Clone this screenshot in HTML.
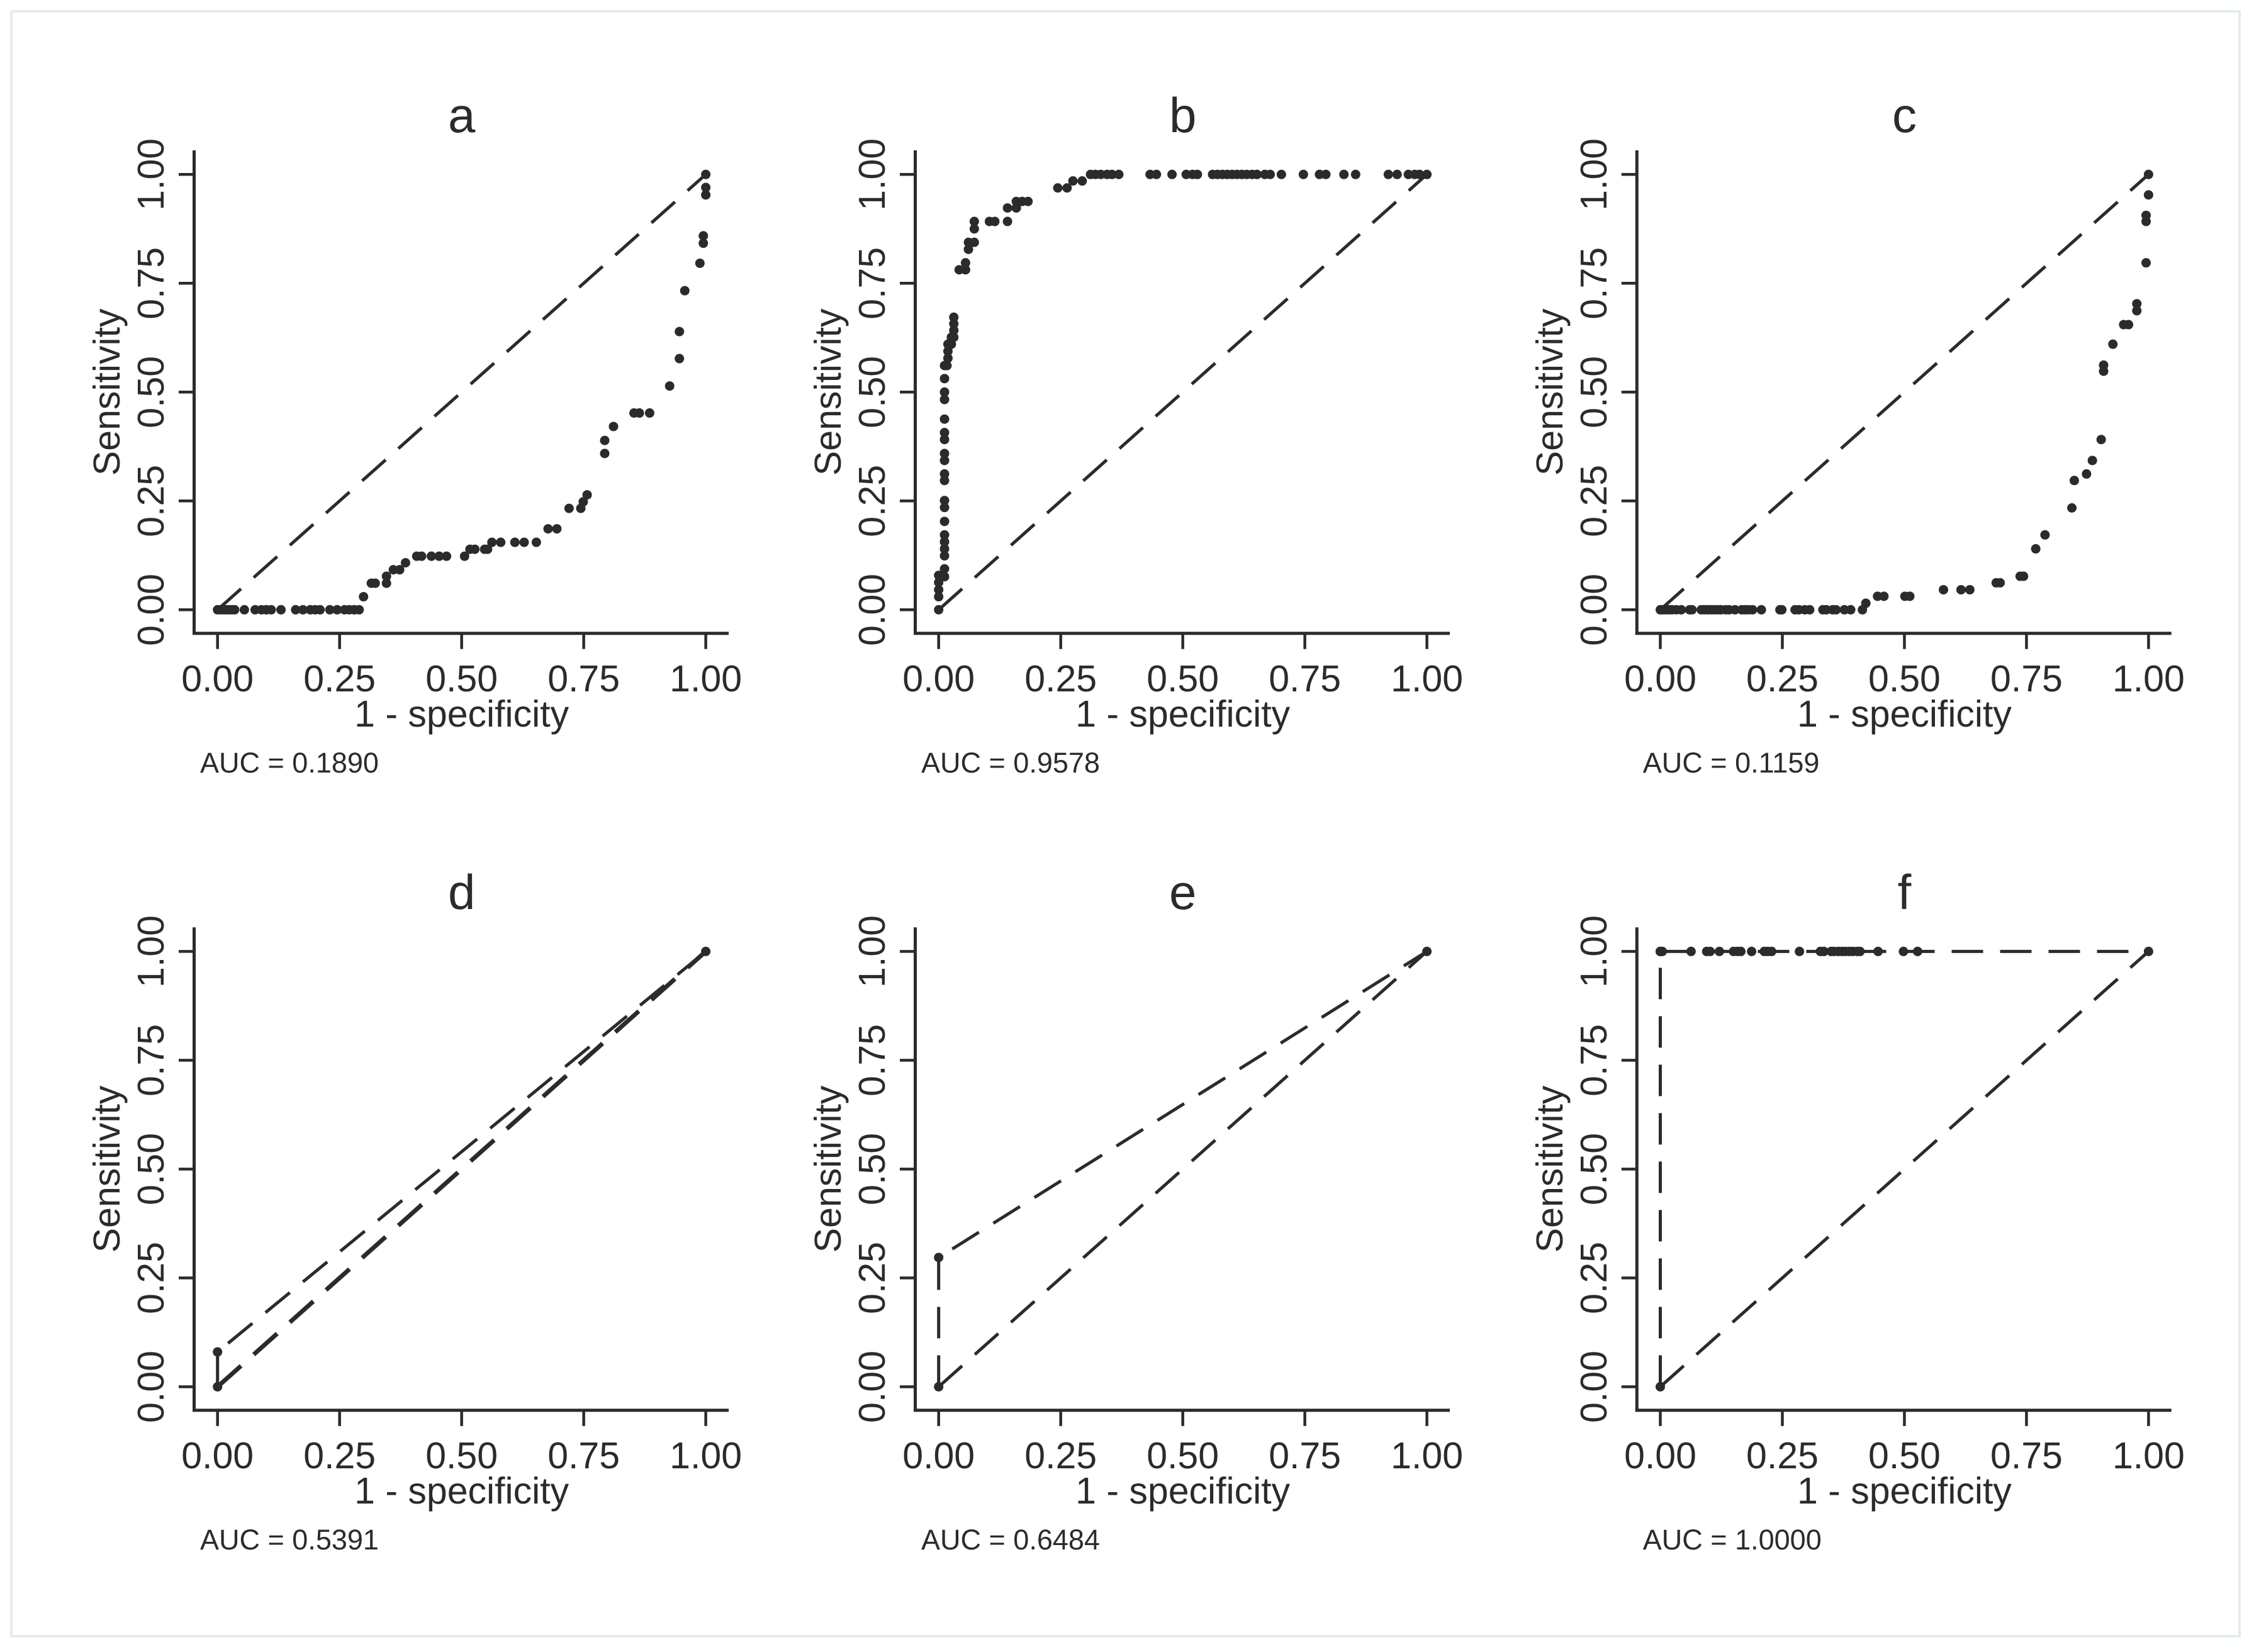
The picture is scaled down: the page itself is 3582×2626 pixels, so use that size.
<!DOCTYPE html>
<html><head><meta charset="utf-8"><style>
html,body{margin:0;padding:0;background:#fff;}
svg{display:block;}
text{font-family:"Liberation Sans",Arial,sans-serif;fill:#2b2b2b;}
</style></head><body>
<svg id="fig" xmlns="http://www.w3.org/2000/svg" width="3582" height="2626" viewBox="0 0 3582 2626">
<rect x="18" y="18" width="3541" height="2583" fill="#fff" stroke="#e2eded" stroke-width="4"/>
</svg>
<script>
// ---- data ----
const panelLabels = ["a","b","c","d","e","f"];
const aucLabels = ["AUC = 0.1890","AUC = 0.9578","AUC = 0.1159","AUC = 0.5391","AUC = 0.6484","AUC = 1.0000"];
const tickValues = [0, 0.25, 0.5, 0.75, 1];
const tickLabels = ["0.00","0.25","0.50","0.75","1.00"];

const aFpr = [0,0.005,0.01,0.015,0.02,0.025,0.03,0.035,0.055,0.077,0.09,0.10,0.11,0.13,0.16,0.175,0.19,0.2,0.21,0.23,0.245,0.26,0.27,0.28,0.29,
  0.299,0.315,0.323,0.346,0.346,0.36,0.373,0.385,0.408,0.418,0.438,0.454,0.469,0.506,0.517,0.527,0.547,0.553,0.562,0.58,0.609,0.628,0.653,
  0.677,0.695,0.72,0.744,0.749,0.757,0.793,0.793,0.811,0.853,0.864,0.885,0.926,0.946,0.946,0.957,0.988,0.995,0.995,1,1,1];
const aTpr = [0,0,0,0,0,0,0,0,0,0,0,0,0,0,0,0,0,0,0,0,0,0,0,0,0,
  0.03,0.061,0.061,0.061,0.077,0.092,0.092,0.108,0.123,0.123,0.123,0.123,0.123,0.123,0.139,0.139,0.139,0.139,0.155,0.155,0.155,0.155,0.155,
  0.186,0.186,0.233,0.233,0.248,0.264,0.359,0.389,0.421,0.452,0.452,0.452,0.514,0.577,0.639,0.733,0.796,0.842,0.859,0.953,0.97,1];

const bFpr = [0,0,0,0,0,
  0.012,0.012,0.012,0.012,0.012,0.012,0.012,0.012,0.012,0.012,0.012,0.012,0.012,0.012,0.012,0.012,0.012,0.012,0.012,
  0.012,0.017,0.019,0.019,0.019,0.026,0.026,0.031,0.031,0.031,0.031,
  0.042,0.055,0.055,0.061,0.061,0.073,0.073,0.073,0.104,0.115,0.141,
  0.141,0.159,0.159,0.171,0.183,0.244,0.263,0.275,0.294,
  0.311,0.321,0.332,0.345,0.355,0.369,0.433,0.446,0.478,0.507,0.52,0.53,0.561,0.571,0.581,0.591,0.601,0.611,0.621,0.631,0.642,0.652,
  0.668,0.679,0.702,0.747,0.78,0.793,0.83,0.854,0.921,0.939,0.962,0.975,0.985,1];
const bTpr = [0,0.03,0.046,0.063,0.079,
  0.076,0.094,0.124,0.14,0.156,0.172,0.203,0.235,0.251,0.297,0.312,0.343,0.359,0.391,0.407,0.438,0.483,0.5,0.531,
  0.561,0.561,0.578,0.594,0.61,0.61,0.626,0.626,0.642,0.657,0.672,
  0.781,0.781,0.797,0.828,0.844,0.844,0.875,0.892,0.892,0.892,0.892,
  0.923,0.923,0.938,0.938,0.938,0.969,0.969,0.985,0.985,
  1,1,1,1,1,1,1,1,1,1,1,1,1,1,1,1,1,1,1,1,1,1,
  1,1,1,1,1,1,1,1,1,1,1,1,1,1];

const cFpr = [0,0.003,0.008,0.013,0.018,0.024,0.033,0.043,0.06,0.065,0.084,0.09,0.097,0.104,0.11,0.117,0.124,0.134,0.141,0.153,0.167,0.174,0.181,0.189,0.207,0.245,0.249,0.276,0.284,0.296,0.306,0.333,0.34,0.353,0.36,0.377,0.39,0.414,
  0.421,0.445,0.458,0.501,0.511,0.58,0.616,0.634,0.688,0.696,0.737,0.744,0.769,0.788,0.843,0.848,0.873,0.885,0.903,0.908,0.908,0.927,0.949,0.959,0.976,0.976,0.995,0.995,0.995,1,1];
const cTpr = [0,0,0,0,0,0,0,0,0,0,0,0,0,0,0,0,0,0,0,0,0,0,0,0,0,0,0,0,0,0,0,0,0,0,0,0,0,0,
  0.015,0.031,0.031,0.031,0.031,0.046,0.046,0.046,0.062,0.062,0.077,0.077,0.14,0.172,0.234,0.297,0.312,0.343,0.391,0.548,0.562,0.61,0.655,0.655,0.687,0.703,0.797,0.892,0.906,0.953,1];

const dFpr = [0,0,1];
const dTpr = [0,0.08,1];
const eFpr = [0,0,1];
const eTpr = [0,0.297,1];
const fFpr = [0,0,0,0.004,0.063,0.095,0.102,0.121,0.15,0.158,0.165,0.187,0.213,0.22,0.228,0.285,0.328,0.335,0.35,0.356,0.365,0.372,0.379,0.387,0.394,0.403,0.409,0.446,0.498,0.527,1];
const fTpr = [0,1,1,1,1,1,1,1,1,1,1,1,1,1,1,1,1,1,1,1,1,1,1,1,1,1,1,1,1,1,1];

const seriesFpr = [aFpr,bFpr,cFpr,dFpr,eFpr,fFpr];
const seriesTpr = [aTpr,bTpr,cTpr,dTpr,eTpr,fTpr];
const connected = [false,false,false,true,true,true];

// ---- layout ----
const NS = "http://www.w3.org/2000/svg";
const svg = document.getElementById("fig");
const colOff = [0,1146,2292.8];
const rowOff = [0,1235.1];
const X0 = 345.7, X1 = 1121.6, Y0 = 969.3, Y1 = 277.3;
const INK = "#2b2b2b";

function mk(tag, attrs, parent){
  const el = document.createElementNS(NS, tag);
  for (const k in attrs) el.setAttribute(k, attrs[k]);
  (parent||svg).appendChild(el);
  return el;
}

for (let p = 0; p < 6; p++){
  const ox = colOff[p%3], oy = rowOff[Math.floor(p/3)];
  const xs = v => ox + X0 + v*(X1-X0);
  const ys = v => oy + Y0 - v*(Y0-Y1);
  const g = mk("g", {});
  
  

  const title = mk("text", {x: xs(0.5), y: oy+210, "font-size": 78, "text-anchor": "middle"}, g);
  title.textContent = panelLabels[p];
  
  

  const yAxis = mk("line", {x1: ox+308.5, y1: oy+239, x2: ox+308.5, y2: oy+1009, stroke: INK, "stroke-width": 5}, g);
  
  
  const xAxis = mk("line", {x1: ox+306, y1: oy+1006.7, x2: ox+1158, y2: oy+1006.7, stroke: INK, "stroke-width": 5}, g);
  
  

  for (let i = 0; i < tickValues.length; i++){
    const tv = tickValues[i];
    const xt = mk("line", {x1: xs(tv), y1: oy+1006.7, x2: xs(tv), y2: oy+1031.7, stroke: INK, "stroke-width": 4.5}, g);
    
    
    const xl = mk("text", {x: xs(tv), y: oy+1099, "font-size": 59, "text-anchor": "middle"}, g);
    xl.textContent = tickLabels[i];
    
    
    const yt = mk("line", {x1: ox+284, y1: ys(tv), x2: ox+308.5, y2: ys(tv), stroke: INK, "stroke-width": 4.5}, g);
    
    
    const yl = mk("text", {x: 0, y: 0, "font-size": 59, "text-anchor": "middle", transform: `translate(${ox+260},${ys(tv)}) rotate(-90)`}, g);
    yl.textContent = tickLabels[i];
    
    
  }

  const xt = mk("text", {x: xs(0.5), y: oy+1155, "font-size": 59, "text-anchor": "middle"}, g);
  xt.textContent = "1 - specificity";
  
  
  const yt = mk("text", {x: 0, y: 0, "font-size": 59, "text-anchor": "middle", transform: `translate(${ox+190},${ys(0.5)}) rotate(-90)`}, g);
  yt.textContent = "Sensitivity";
  
  
  const auc = mk("text", {x: ox+318, y: oy+1228, "font-size": 45}, g);
  auc.textContent = aucLabels[p];
  
  

  const ref = mk("line", {x1: xs(0), y1: ys(0), x2: xs(1), y2: ys(1), stroke: INK, "stroke-width": p===3?7:5, "stroke-dasharray": "50 27"}, g);
  
  

  const fx = seriesFpr[p], ty = seriesTpr[p];
  if (connected[p]){
    let d = "";
    for (let i = 0; i < fx.length; i++) d += (i ? "L" : "M") + xs(fx[i]).toFixed(1) + " " + ys(ty[i]).toFixed(1);
    const path = mk("path", {d: d, fill: "none", stroke: INK, "stroke-width": 5, "stroke-dasharray": "50 27"}, g);
    
    
  }
  for (let i = 0; i < fx.length; i++){
    const c = mk("circle", {cx: xs(fx[i]), cy: ys(ty[i]), r: 7.5, fill: INK}, g);
    
    
  }
}
</script>
</body></html>
